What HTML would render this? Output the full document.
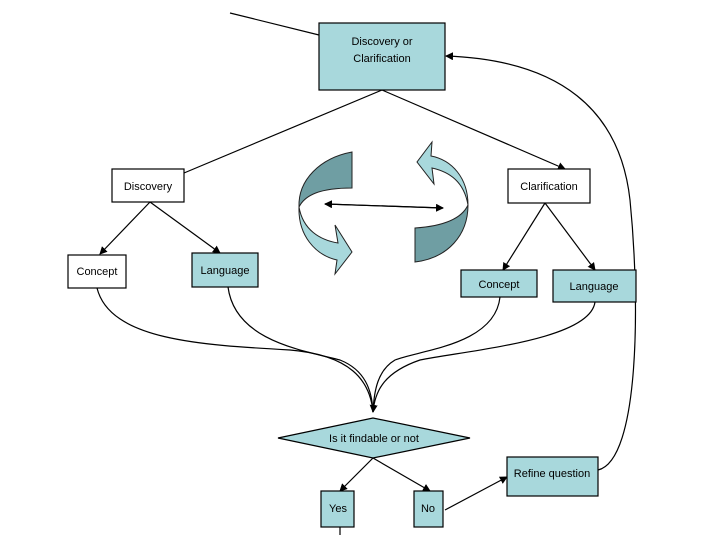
<!DOCTYPE html>
<html><head><style>body{margin:0;background:#fff}svg{display:block}text{font-family:"Liberation Sans",sans-serif;font-size:11px;fill:#000}</style></head><body>
<svg width="720" height="540" viewBox="0 0 720 540">
<defs><marker id="a" markerWidth="8" markerHeight="8" refX="7" refY="4" orient="auto" markerUnits="userSpaceOnUse"><path d="M0,0 L8,4 L0,8z" fill="#000"/></marker></defs>
<g stroke="#000" stroke-width="1.2" fill="none">
<line x1="230" y1="13" x2="319" y2="35"/>
<line x1="382" y1="90" x2="184" y2="173"/>
<line x1="382" y1="90" x2="565" y2="169" marker-end="url(#a)"/>
<line x1="150" y1="202" x2="100" y2="254" marker-end="url(#a)"/>
<line x1="150" y1="202" x2="220" y2="253" marker-end="url(#a)"/>
<line x1="545" y1="203" x2="503" y2="270" marker-end="url(#a)"/>
<line x1="545" y1="203" x2="595" y2="270" marker-end="url(#a)"/>
<path d="M97,288 C110,340 200,345 290,350 C350,355 370,380 373,412"/>
<path d="M228,287 C235,340 300,350 340,360 C365,370 372,390 373,412"/>
<path d="M500,297 C495,345 420,350 395,360 C378,370 374,390 373,412"/>
<path d="M595,302 C590,340 470,350 420,360 C385,372 375,390 373,412" marker-end="url(#a)"/>
<line x1="373" y1="458" x2="340" y2="491" marker-end="url(#a)"/>
<line x1="373" y1="458" x2="430" y2="491" marker-end="url(#a)"/>
<line x1="445" y1="510" x2="507" y2="477" marker-end="url(#a)"/>
<path d="M598,470 C640,460 640,300 630,200 C620,110 560,60 446,56" marker-end="url(#a)"/>
<line x1="340" y1="527" x2="340" y2="535"/>
<line x1="325" y1="204" x2="443" y2="208" marker-end="url(#a)"/>
<line x1="443" y1="208" x2="325" y2="204" marker-end="url(#a)"/>
</g>
<g stroke="#222" stroke-width="1">
<path d="M352,152 L352,188 C320,188 305,195 299,207 C298,180 320,158 352,152z" fill="#6f9ea3"/>
<path d="M299,207 C303,230 320,240 338,243 L335,225 L352,252 L335,274 L337,260 C315,255 298,235 299,207z" fill="#a8d8dc"/>
<path d="M415,262 L415,228 C445,226 462,218 468,205 C468,235 448,258 415,262z" fill="#6f9ea3"/>
<path d="M468,205 C464,182 450,172 432,168 L434,184 L417,162 L432,142 L431,156 C452,160 468,178 468,205z" fill="#a8d8dc"/>
</g>
<g stroke="#000" stroke-width="1.2">
<rect x="319" y="23" width="126" height="67" fill="#a8d8dc"/>
<rect x="112" y="169" width="72" height="33" fill="#fff"/>
<rect x="508" y="169" width="82" height="34" fill="#fff"/>
<rect x="68" y="255" width="58" height="33" fill="#fff"/>
<rect x="192" y="253" width="66" height="34" fill="#a8d8dc"/>
<rect x="461" y="270" width="76" height="27" fill="#a8d8dc"/>
<rect x="553" y="270" width="83" height="32" fill="#a8d8dc"/>
<polygon points="278,438 373,418 470,438 373,458" fill="#a8d8dc"/>
<rect x="321" y="491" width="33" height="36" fill="#a8d8dc"/>
<rect x="414" y="491" width="29" height="36" fill="#a8d8dc"/>
<rect x="507" y="457" width="91" height="39" fill="#a8d8dc"/>
</g>
<g text-anchor="middle">
<text x="382" y="45">Discovery or</text><text x="382" y="62">Clarification</text>
<text x="148" y="190">Discovery</text>
<text x="549" y="190">Clarification</text>
<text x="97" y="275">Concept</text>
<text x="225" y="274">Language</text>
<text x="499" y="288">Concept</text>
<text x="594" y="290">Language</text>
<text x="374" y="442">Is it findable or not</text>
<text x="338" y="512">Yes</text>
<text x="428" y="512">No</text>
<text x="552" y="477">Refine question</text>
</g>
</svg>
</body></html>
